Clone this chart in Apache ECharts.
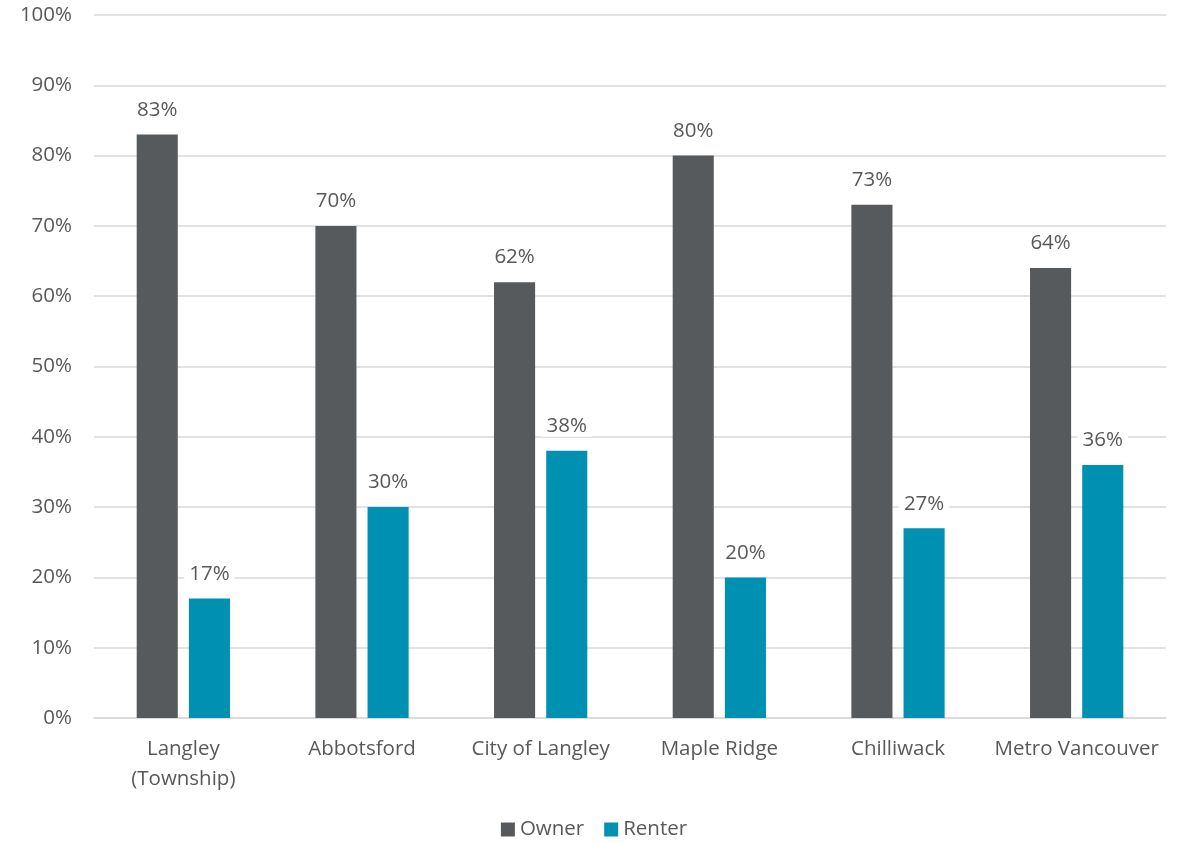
<!DOCTYPE html>
<html>
<head>
<meta charset="utf-8">
<script src="https://cdn.jsdelivr.net/npm/echarts@6/dist/echarts.min.js"></script>
<style>html,body{margin:0;padding:0;background:#fff}#c{width:1188px;height:843px}</style>
</head>
<body>
<div id="c"></div>
<script>
const categories = ['Langley\n(Township)', 'Abbotsford', 'City of Langley', 'Maple Ridge', 'Chilliwack', 'Metro Vancouver'];
const owner = [83, 70, 62, 80, 73, 64];
const renter = [17, 30, 38, 20, 27, 36];
const seriesNames = ['Owner', 'Renter'];

const FONT = '"Open Sans", Lato, sans-serif';
const TXT = '#595959';
const FS = 20.5;
const chart = echarts.init(document.getElementById('c'), null, {renderer: 'canvas'});
const labelCfg = {
  show: true, position: 'top', distance: 14,
  formatter: p => p.value + '%',
  color: TXT, fontFamily: FONT, fontSize: FS,
  backgroundColor: '#fff', padding: [0, 5, 0, 5]
};
chart.setOption({
  animation: false,
  textStyle: {fontFamily: FONT},
  grid: {left: 94, right: 22, top: 15, bottom: 125, containLabel: false},
  legend: {
    data: seriesNames, bottom: -2, left: 'center',
    itemWidth: 14, itemHeight: 14, itemGap: 20, icon: 'rect',
    textStyle: {color: TXT, fontFamily: FONT, fontSize: FS}
  },
  xAxis: {
    type: 'category', data: categories,
    axisLine: {lineStyle: {color: '#d9d9d9', width: 1.5}},
    axisTick: {show: false},
    axisLabel: {color: TXT, fontFamily: FONT, fontSize: FS, margin: 16, lineHeight: 30, interval: 0}
  },
  yAxis: {
    type: 'value', min: 0, max: 100, interval: 10,
    axisLabel: {formatter: '{value}%', color: TXT, fontFamily: FONT, fontSize: FS, margin: 22},
    splitLine: {lineStyle: {color: '#d9d9d9', width: 1.5}},
    axisLine: {show: false}, axisTick: {show: false}
  },
  series: [
    {name: seriesNames[0], type: 'bar', data: owner, barWidth: '23%', barGap: '27%',
     itemStyle: {color: '#575a5d'}, label: labelCfg},
    {name: seriesNames[1], type: 'bar', data: renter, barWidth: '23%',
     itemStyle: {color: '#0090b2'}, label: labelCfg}
  ]
});
</script>
</body>
</html>
